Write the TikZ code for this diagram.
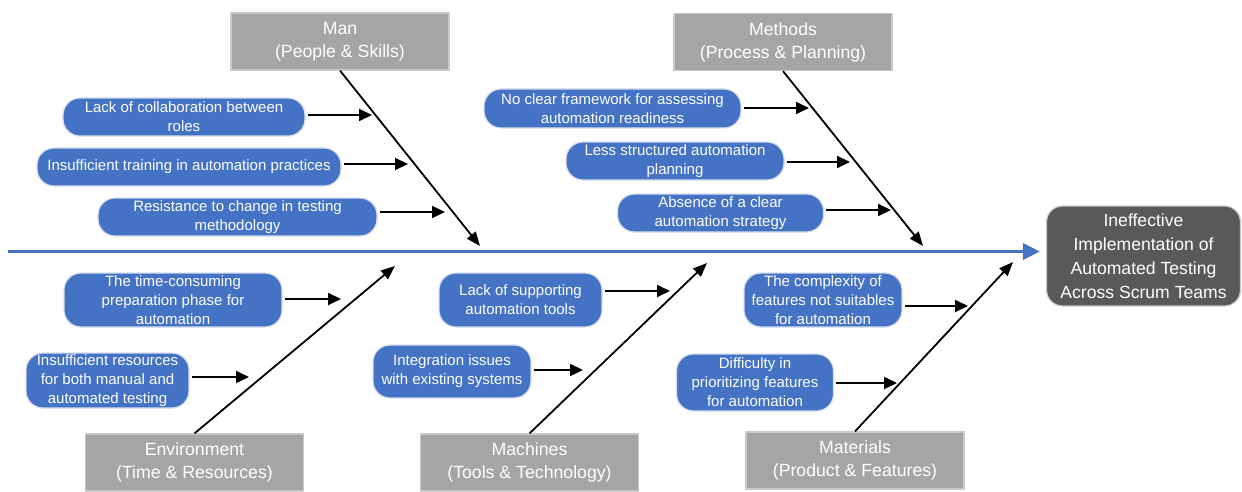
\documentclass[tikz,border=0pt]{standalone}
\usepackage{fontspec}
\setmainfont{Liberation Sans}
\usetikzlibrary{arrows.meta}
\definecolor{causeblue}{HTML}{4472C4}
\definecolor{catgray}{HTML}{A5A5A5}
\definecolor{headgray}{HTML}{595959}
\definecolor{pillrim}{HTML}{D6DEEE}
\definecolor{catrim}{HTML}{CACACA}
\begin{document}
\begin{tikzpicture}[x=1pt,y=-1pt,
  cause/.style={draw=pillrim, line width=1.2pt, fill=causeblue, text=white,
    rounded corners=17pt, align=center, inner sep=0pt,
    font=\fontsize{15}{19}\selectfont},
  category/.style={draw=catrim, line width=1.2pt, fill=catgray, text=white,
    align=center, inner sep=0pt, minimum width=218pt, minimum height=57pt,
    font=\fontsize{17.7}{23}\selectfont},
  effect/.style={draw=catrim, line width=1.2pt, fill=headgray, text=white,
    rounded corners=16pt, align=center, inner sep=0pt,
    minimum width=194pt, minimum height=100pt,
    font=\fontsize{17.6}{24}\selectfont},
  bone/.style={line width=1.8pt, -{Triangle[length=14pt,width=11pt]}},
  causearrow/.style={line width=1.8pt, -{Triangle[length=13pt,width=12pt]}},
  spine/.style={draw=causeblue, line width=3pt, -{Triangle[length=17pt,width=16pt]}}
]
\useasboundingbox[fill=white] (0,0) rectangle (1242,492);

% effect
\node[effect] (head) at (1143.5,256) {Ineffective\\Implementation of\\Automated Testing\\Across Scrum Teams};

% spine
\coordinate (tail) at (8,251.5);
\draw[spine, shorten >=6pt] (tail) -- (head.west |- tail);

% category boxes
\node[category] (man) at (340,41.5) {Man\\(People \& Skills)};
\node[category] (methods) at (783,42) {Methods\\(Process \& Planning)};
\node[category] (env) at (194.5,462.5) {Environment\\(Time \& Resources)};
\node[category] (mach) at (529.5,462.5) {Machines\\(Tools \& Technology)};
\node[category] (mat) at (855,460.5) {Materials\\(Product \& Features)};

% bone tips on the spine
\coordinate (mantip) at (480,246);
\coordinate (methtip) at (923,246);
\coordinate (envtip) at (395,266);
\coordinate (machtip) at (707,263);
\coordinate (mattip) at (1013,262);

\draw[bone] (man.south) -- (mantip);
\draw[bone] (methods.south) -- (methtip);
\draw[bone] (env.north) -- (envtip);
\draw[bone] (mach.north) -- (machtip);
\draw[bone] (mat.north) -- (mattip);

% causes: man
\node[cause, minimum width=242pt, minimum height=38pt] (c1) at (184,117) {Lack of collaboration between\\roles};
\node[cause, minimum width=304pt, minimum height=38pt] (c2) at (189,167) {Insufficient training in automation practices};
\node[cause, minimum width=279pt, minimum height=38pt] (c3) at (237.5,217) {Resistance to change in testing\\methodology};

% causes: methods
\node[cause, minimum width=257pt, minimum height=39pt] (p1) at (612.5,108.5) {No clear framework for assessing\\automation readiness};
\node[cause, minimum width=218pt, minimum height=38pt] (p2) at (675,161) {Less structured automation\\planning};
\node[cause, minimum width=206pt, minimum height=38pt] (p3) at (720.5,213) {Absence of a clear\\automation strategy};

% causes: environment
\node[cause, minimum width=218pt, minimum height=54pt] (e1) at (173,300) {The time-consuming\\preparation phase for\\automation};
\node[cause, minimum width=163pt, minimum height=55pt] (e2) at (107.5,380.5) {Insufficient resources\\for both manual and\\automated testing};

% causes: machines
\node[cause, minimum width=163pt, minimum height=54pt] (m1) at (520.5,300) {Lack of supporting\\automation tools};
\node[cause, minimum width=158pt, minimum height=53pt] (m2) at (452,371.5) {Integration issues\\with existing systems};

% causes: materials
\node[cause, minimum width=158pt, minimum height=54pt] (t1) at (823,300) {The complexity of\\features not suitables\\for automation};
\node[cause, minimum width=157pt, minimum height=57pt] (t2) at (755,382.5) {Difficulty in\\prioritizing features\\for automation};

% arrow tips of the causes
\coordinate (c1a) at (372,115);
\coordinate (c2a) at (408,164);
\coordinate (c3a) at (445,212);
\coordinate (p1a) at (809,108);
\coordinate (p2a) at (850,162);
\coordinate (p3a) at (891,210);
\coordinate (e1a) at (341,299);
\coordinate (e2a) at (249,377);
\coordinate (m1a) at (670,291);
\coordinate (m2a) at (583,370);
\coordinate (t1a) at (968,306);
\coordinate (t2a) at (897,383);

\foreach \n in {c1,c2,c3,p1,p2,p3,e1,e2,m1,m2,t1,t2}
  \draw[causearrow, shorten <=2pt] (\n.east |- \n a) -- (\n a);
\end{tikzpicture}
\end{document}
